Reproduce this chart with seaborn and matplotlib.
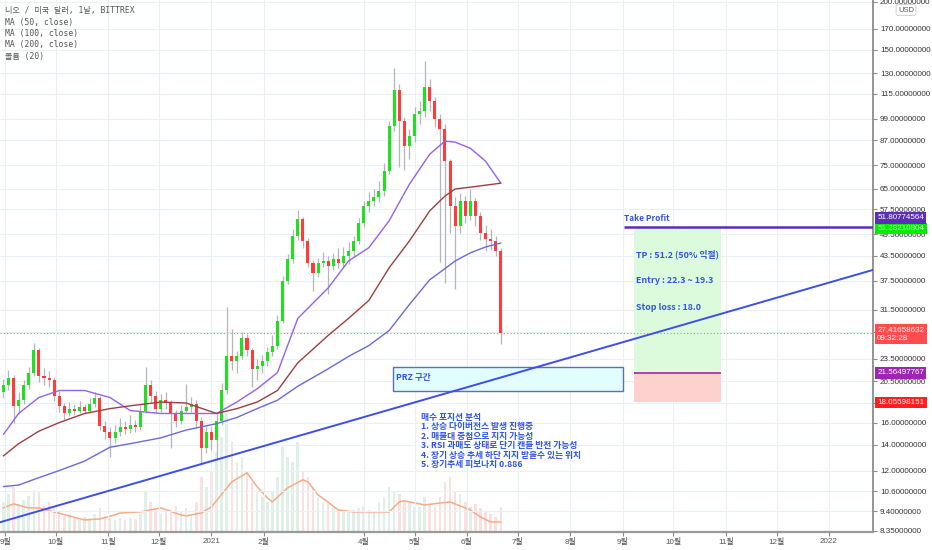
import numpy as np
import pandas as pd
import matplotlib
matplotlib.use('Agg')
import matplotlib.pyplot as plt
import matplotlib.dates as mdates
import matplotlib.ticker as mticker
from matplotlib.patches import Rectangle
import seaborn as sns

# NIO/USD daily chart, every 3rd day (2020-08-31 .. 2021-06-21)
first_open = 19.2
close = [20.0, 20.9, 17.7, 18.3, 20.0, 21.6, 24.7, 21.2, 20.9, 20.6,
         18.8, 17.7, 17.0, 17.4, 17.2, 17.6, 17.2, 17.9, 18.5, 15.7,
         15.1, 14.6, 15.1, 15.6, 15.4, 15.8, 15.6, 17.2, 20.0, 18.8,
         17.4, 18.3, 18.0, 17.0, 16.2, 17.2, 17.6, 17.9, 16.2, 13.7,
         15.1, 14.4, 16.2, 19.4, 23.9, 23.2, 23.9, 26.6, 24.7, 22.1,
         22.5, 23.2, 24.4, 25.4, 29.5, 37.5, 42.7, 49.1, 54.3, 47.6,
         41.7, 39.3, 41.7, 42.2, 41.0, 42.7, 41.7, 43.5, 44.8, 47.6,
         53.0, 58.7, 60.5, 61.9, 64.2, 72.3, 94.7, 118.0, 97.6, 84.0,
         89.2, 102.0, 103.6, 120.0, 110.0, 98.8, 93.0, 76.8, 58.7, 52.1,
         60.5, 55.3, 60.5, 55.3, 49.9, 48.2, 47.6, 44.8, 27.4]
high = [20.8, 22.0, 21.3, 19.2, 20.6, 22.4, 25.8, 25.0, 22.2, 21.8,
        21.0, 19.3, 18.0, 18.1, 17.9, 18.2, 17.9, 18.6, 19.2, 18.8,
        16.2, 15.6, 15.8, 16.4, 16.2, 16.7, 16.3, 17.8, 22.3, 20.6,
        19.3, 19.0, 19.2, 18.3, 17.3, 17.8, 20.2, 18.7, 18.3, 16.5,
        15.7, 15.6, 16.8, 20.3, 32.0, 28.0, 24.6, 27.6, 27.2, 25.0,
        23.4, 24.0, 25.2, 27.0, 30.5, 38.6, 44.0, 51.0, 57.3, 55.0,
        48.4, 42.5, 43.0, 44.5, 43.6, 44.2, 45.5, 46.0, 47.2, 49.0,
        54.5, 60.5, 64.0, 65.0, 68.0, 76.0, 98.0, 134.0, 122.0, 100.0,
        93.0, 106.0, 110.0, 140.0, 126.0, 113.0, 102.0, 96.0, 78.0, 62.0,
        63.5, 62.5, 65.0, 61.5, 56.5, 52.5, 51.0, 49.0, 45.5]
low = [18.6, 19.5, 16.0, 16.8, 17.9, 19.6, 21.2, 20.4, 20.0, 19.8,
       18.2, 17.1, 16.3, 16.6, 16.7, 16.9, 16.8, 17.0, 17.6, 15.3,
       14.5, 13.0, 14.2, 14.8, 14.9, 15.0, 15.1, 15.3, 17.0, 18.1,
       16.9, 17.1, 17.4, 13.7, 15.6, 15.9, 16.9, 17.1, 15.6, 12.4,
       13.3, 13.6, 12.8, 15.8, 19.0, 22.0, 21.6, 23.4, 23.8, 19.8,
       20.6, 21.6, 22.5, 23.8, 24.9, 29.0, 36.8, 41.8, 48.0, 45.5,
       40.6, 35.3, 38.4, 40.6, 34.6, 40.0, 40.5, 40.8, 41.5, 43.6,
       46.8, 51.6, 56.5, 58.6, 60.0, 62.5, 71.0, 92.0, 74.0, 73.0,
       78.0, 86.0, 96.0, 100.0, 104.0, 94.0, 42.0, 37.0, 50.0, 35.6,
       50.0, 53.0, 54.0, 52.0, 48.0, 44.7, 45.0, 43.5, 25.6]
volume = [30, 38, 45, 28, 32, 36, 42, 40, 26, 30,
          24, 20, 16, 18, 14, 12, 15, 14, 18, 24,
          16, 14, 12, 14, 12, 14, 13, 18, 40, 30,
          24, 18, 20, 22, 26, 20, 24, 18, 30, 55,
          45, 60, 80, 95, 120, 90, 70, 75, 60, 50,
          40, 35, 30, 40, 55, 85, 75, 70, 90, 60,
          55, 45, 35, 30, 28, 25, 22, 20, 20, 22,
          24, 26, 22, 20, 30, 35, 45, 40, 38, 32,
          30, 25, 25, 35, 28, 25, 35, 50, 55, 40,
          38, 30, 25, 28, 24, 20, 18, 15, 25]

# moving averages, sampled at candle indices
ma_idx = [0, 3, 7, 11, 16, 21, 25, 31, 36, 42, 46, 50, 54, 58, 64, 68, 72, 76, 80, 84, 87, 89, 92, 95, 98]
ma50 = [14.9, 16.9, 18.6, 19.4, 19.4, 18.6, 17.2, 16.9, 16.9, 16.9, 18.1, 19.6, 21.6,
        29.9, 35.9, 42.2, 45.7, 53.7, 66.9, 80.1, 86.6, 86.1, 83.0, 76.8, 67.3]
ma100 = [13.1, 14.1, 15.2, 16.0, 16.9, 17.4, 17.7, 18.1, 18.0, 16.9, 17.4, 18.1, 19.4,
         22.9, 27.0, 29.9, 33.3, 40.5, 47.6, 57.0, 62.3, 65.0, 65.7, 66.5, 67.3]
ma200 = [10.9, 11.0, 11.5, 12.0, 12.7, 13.8, 14.1, 14.6, 15.3, 15.9, 16.5, 17.4, 18.3,
         19.9, 22.1, 23.8, 25.4, 27.8, 32.5, 37.7, 40.3, 42.2, 44.3, 45.9, 47.0]
vol_ma_idx = [0, 2, 5, 7, 10, 16, 19, 22, 23, 27, 31, 35, 36, 39, 41, 45, 48, 50, 52, 53,
              56, 59, 60, 62, 66, 69, 76, 78, 79, 83, 88, 92, 94, 96, 98]
vol_ma = [24, 28, 24, 24, 20, 12, 13, 17, 19, 20, 24, 17, 16, 19, 25, 50, 59, 45, 34, 30,
          44, 52, 50, 37, 22, 20, 20, 30, 31, 27, 30, 22, 15, 10, 10]

trend_dates = ['2020-08-29', '2022-01-27']
trend_prices = [8.8, 40.0]

last_price = 27.41658632
take_profit = 51.80774564
tp_level = 51.28210804
entry_price = 21.56497767
stop_loss = 18.05598151
prz_low, prz_high = 19.3, 22.3

price_ticks = [8.35, 9.4, 10.6, 12, 14, 16, 18, 20.5, 23.5, 27.5, 31.5, 37.5, 43.5, 49.5,
               57.5, 65, 75, 87, 99, 115, 130, 150, 170, 200]
hidden_ticks = [18, 27.5]   # covered by the price tags in the reference
month_ticks = ['2020-09-01', '2020-10-01', '2020-11-01', '2020-12-01', '2021-01-01',
               '2021-02-01', '2021-04-01', '2021-05-01', '2021-06-01', '2021-07-01',
               '2021-08-01', '2021-09-01', '2021-10-01', '2021-11-01', '2021-12-01', '2022-01-01']
month_labels = ['9월', '10월', '11월', '12월', '2021', '2월', '4월', '5월', '6월', '7월',
                '8월', '9월', '10월', '11월', '12월', '2022']

legend_lines = ['니오 / 미국 달러, 1날, BITTREX', 'MA (50, close)', 'MA (100, close)',
                'MA (200, close)', '볼륨 (20)']
notes = ['매수 포지션 분석', '1. 상승 다이버전스 발생 진행중', '2. 매물대 중첩으로 지지 가능성',
         '3. RSI 과매도 상태로 단기 캔들 반전 가능성', '4. 장기 상승 추세 하단 지지 받을수 있는 위치',
         '5. 장기추세 피보나치 0.886']


def dnum(s):
    return mdates.date2num(pd.Timestamp(s))


sns.set_theme(style='white')
plt.rcParams['font.family'] = ['Liberation Sans', 'Noto Sans CJK KR', 'DejaVu Sans']

dates = pd.date_range('2020-08-31', periods=len(close), freq='3D')
x = mdates.date2num(dates)
c = np.array(close)
o = np.array([first_open] + close[:-1])
up = c >= o

df_ma = pd.DataFrame({'x': x[ma_idx], 'ma50': ma50, 'ma100': ma100, 'ma200': ma200})
df_vma = pd.DataFrame({'x': x[vol_ma_idx], 'vol': vol_ma})

fig = plt.figure(figsize=(9.32, 5.5), dpi=100)
ax = fig.add_axes([0, 18 / 550, 873 / 932, 532 / 550])
ax_v = ax.twinx()
ax.set_zorder(ax_v.get_zorder() + 1)
ax.patch.set_visible(False)

# volume pane
vcol = np.where(up, '#dff1e7', '#fbe0e0')
ax_v.bar(x, volume, width=1.5, color=vcol, linewidth=0)
sns.lineplot(data=df_vma, x='x', y='vol', ax=ax_v, color='#f6ab88', lw=1.1,
             estimator=None, sort=False)
ax_v.set_ylim(0, 530)
ax_v.set_yticks([])
ax_v.set_ylabel('')
for s in ax_v.spines.values():
    s.set_visible(False)

ax.set_yscale('log')

# trade boxes
box_x0, box_x1 = dnum('2021-09-08'), dnum('2021-10-29')
ax.add_patch(Rectangle((box_x0, entry_price), box_x1 - box_x0, take_profit - entry_price,
                       fc='#dcfbdc', ec='none', zorder=1))
ax.add_patch(Rectangle((box_x0, stop_loss), box_x1 - box_x0, entry_price - stop_loss,
                       fc='#fdd2ce', ec='none', zorder=1))
ax.hlines(entry_price, box_x0, box_x1, color='#a526a8', lw=1.2, zorder=2)

prz_x0, prz_x1 = dnum('2021-04-18'), dnum('2021-09-01')
ax.add_patch(Rectangle((prz_x0, prz_low), prz_x1 - prz_x0, prz_high - prz_low,
                       fc='#e2fdfd', ec='#5b6fb5', lw=1, zorder=1))

# candles
ax.vlines(x, low, high, color='#b3b6bd', lw=0.9, zorder=3)
ax.bar(x, np.abs(c - o), bottom=np.minimum(o, c), width=1.8,
       color=np.where(up, '#1de21d', '#ff3b3b'), linewidth=0, zorder=4)

# moving averages
sns.lineplot(data=df_ma, x='x', y='ma50', ax=ax, color='#9163ee', lw=1, estimator=None, sort=False, zorder=5)
sns.lineplot(data=df_ma, x='x', y='ma100', ax=ax, color='#9e3f3f', lw=1, estimator=None, sort=False, zorder=5)
sns.lineplot(data=df_ma, x='x', y='ma200', ax=ax, color='#6a6ad8', lw=1, estimator=None, sort=False, zorder=5)

# trend line, current price, take profit
ax.plot([dnum(d) for d in trend_dates], trend_prices, color='#3d4fe8', lw=1.4, zorder=6)
ax.axhline(last_price, color='#f47a7a', lw=0.8, ls=(0, (1, 2)), zorder=2)
xmin, xmax = dnum('2020-08-29'), dnum('2022-01-27')
ax.hlines(take_profit, dnum('2021-09-02'), xmax, color='#5b2db8', lw=1.8, zorder=6)

txt_blue = '#2f55e4'
kfont = ['Noto Sans CJK KR', 'DejaVu Sans']
ax.text(dnum('2021-09-02'), 54.6, 'Take Profit', color=txt_blue, fontsize=6, weight='bold',
        family=kfont, va='center', ha='left', zorder=7)
ax.text(dnum('2021-09-09'), 44.0, 'TP : 51.2 (50% 익절)', color=txt_blue, fontsize=6.4,
        weight='bold', family=kfont, va='center', zorder=7)
ax.text(dnum('2021-09-09'), 37.5, 'Entry : 22.3 ~ 19.3', color=txt_blue, fontsize=6.4,
        weight='bold', family=kfont, va='center', zorder=7)
ax.text(dnum('2021-09-09'), 31.9, 'Stop loss : 18.0', color=txt_blue, fontsize=6.4,
        weight='bold', family=kfont, va='center', zorder=7)
ax.text(dnum('2021-04-20'), 21.0, 'PRZ 구간', color=txt_blue, fontsize=6.2, weight='bold',
        family=kfont, va='center', zorder=7)
for k, line in enumerate(notes):
    ax.annotate(line, xy=(dnum('2021-05-05'), 16.5), xytext=(0, -9.5 * k * 0.72),
                textcoords='offset points', color=txt_blue, fontsize=6.3, weight='bold',
                family=kfont, va='center', ha='left', zorder=7)

# axes
ax.set_xlim(xmin, xmax)
ax.set_ylim(8.3, 202)
ax.set_xlabel('')
ax.set_ylabel('')
ax.xaxis.set_major_locator(mticker.FixedLocator([dnum(d) for d in month_ticks]))
ax.xaxis.set_major_formatter(mticker.FixedFormatter(month_labels))
ax.yaxis.set_major_locator(mticker.FixedLocator(price_ticks))
ax.yaxis.set_minor_locator(mticker.NullLocator())
ax.yaxis.set_major_formatter(mticker.FuncFormatter(
    lambda v, p: '' if any(abs(v - h) < 1e-6 for h in hidden_ticks) else f'{v:.8f}'))
ax.yaxis.tick_right()
ax.tick_params(axis='y', labelsize=5.8, labelcolor='#333333', color='#888888',
               length=3, width=0.8, pad=2, direction='out')
ax.tick_params(axis='x', labelsize=5.8, labelcolor='#555555', color='#888888',
               length=3, width=0.8, pad=1.5, direction='out', bottom=True)
ax.grid(True, color='#ebeff6', lw=0.8)
ax.set_axisbelow(True)
for side in ['top', 'left']:
    ax.spines[side].set_visible(False)
ax.spines['right'].set_color('#888888')
ax.spines['bottom'].set_color('#9a9a9a')
ax.spines['bottom'].set_linewidth(1.6)

# price labels on the scale
ytr = ax.get_yaxis_transform()


def scale_label(price, text, fc, tc='white', dy=0, va='center'):
    ax.annotate(text, xy=(1.0, price), xycoords=ytr, xytext=(3, dy), textcoords='offset points',
                fontsize=5.8, color=tc, va=va, ha='left', family=['Liberation Sans'],
                bbox=dict(boxstyle='square,pad=0.3', fc=fc, ec='none'),
                annotation_clip=False, zorder=10)


scale_label(tp_level, f'{tp_level:.8f}', '#00ee00', tc='#d9ffd9')
scale_label(take_profit, f'{take_profit:.8f}', '#5b2db8', dy=6.5)
scale_label(last_price, f'{last_price:.8f}\n09:32:28', '#ff4d4d', dy=4.5, va='top')
scale_label(entry_price, f'{entry_price:.8f}', '#9c27b0')
scale_label(stop_loss, f'{stop_loss:.8f}', '#ff1f1f')

fig.text(906 / 932, 1 - 10 / 550, 'USD', fontsize=5.5, color='#555555', ha='center', va='center',
         bbox=dict(boxstyle='round,pad=0.25', fc='white', ec='#cccccc', lw=0.6))

for k, line in enumerate(legend_lines):
    fig.text(5 / 932, 1 - (11 + 11.3 * k) / 550, line, fontsize=5.8, color='#555555',
             va='center', ha='left', family=['DejaVu Sans Mono', 'Noto Sans CJK KR'])

fig.savefig('out.png', dpi=100)
